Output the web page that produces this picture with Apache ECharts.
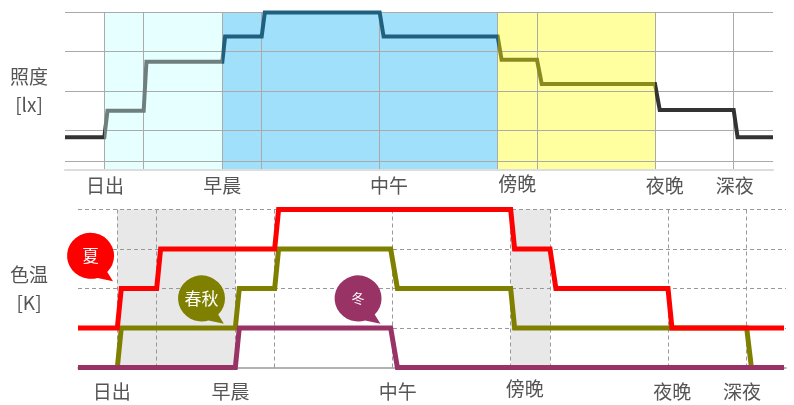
<!DOCTYPE html>
<html><head><meta charset="utf-8">
<style>html,body{margin:0;padding:0;background:#fff}#c{width:794px;height:405px}</style>
<script src="https://cdn.jsdelivr.net/npm/echarts@6/dist/echarts.min.js"></script>
</head><body><div id="c"></div>
<script>
// x unit = one timeline step, y unit = one grid level
const timeTicks = [1,2,4,5,8,11,12,15,17];
const illumLevelTicks = [0.23,1,2,3,4];
const cctLevelTicks = [1,2,3,4];

const illumLabels = ['日出','早晨','中午','傍晚','夜晚','深夜'];
const illumLabelAt = [1.02,4.0,8.24,11.5,15.25,17.03];
const cctLabels = ['日出','早晨','中午','傍晚','夜晚','深夜'];
const cctLabelAt = [0.86,3.88,8.13,11.36,15.11,16.88];

const illumance = [[0,0.83],[1,0.83],[1.08,1.50],[2,1.50],[2.07,2.74],[4,2.74],[4.07,3.38],[5,3.38],[5.08,3.99],[8,3.99],[8.1,3.38],[11,3.38],[11.1,2.79],[12,2.79],[12.12,2.18],[15,2.18],[15.12,1.52],[17,1.52],[17.1,0.83],[18,0.83]];
const summer = [[0,1],[1,1],[1.1,2],[2,2],[2.1,3],[5,3],[5.1,4],[11,4],[11.1,3],[12,3],[12.15,2],[15,2],[15.1,1],[17.95,1]];
const springAutumn = [[0,0],[1,0],[1.1,1],[4,1],[4.1,2],[5,2],[5.1,3],[7.95,3],[8.12,2],[11,2],[11.1,1],[17,1],[17.12,0]];
const winter = [[0,0],[4,0],[4.1,1],[7.95,1],[8.12,0],[17.95,0]];

const illumBands = [[1,4,'#E6FFFF'],[4,11,'#A0E0FA'],[11,15,'#FFFF9F']];
const cctBands = [[1,4],[11,12]];
const illumColors = [[0,1,'#333333'],[1,4,'#6F7F7E'],[4,11,'#1F6080'],[11,15,'#8A8A1F'],[15,18,'#333333']];

const bubbles = [
  {name:'夏', pos:[0.32,2.8], color:'#FF0000', size:17},
  {name:'春秋', pos:[3.14,1.72], color:'#808000', size:17},
  {name:'冬', pos:[7.12,1.72], color:'#993366', size:13}
];
const bubbleShape = 'path://M50 0A50 50 0 0 1 85 85L97 105L65 98A50 50 0 1 1 50 0Z';

const font = '"Noto Sans CJK TC","Noto Sans CJK SC",sans-serif';
const textCol = '#555555';

function xAxis(idx, ticks, labelAt, labels, dashed, lineCol){
  return {type:'value',gridIndex:idx,min:0,max:18,z:1,
    axisLine:{show:true,onZero:false,lineStyle:{color:lineCol,width:idx?1.5:2}},
    axisTick:{show:false,customValues:ticks},
    splitLine:{show:true,lineStyle:{color:dashed?'#999':'#aaa',type:dashed?[4,3]:'solid',width:1}},
    axisLabel:{show:true,customValues:labelAt,margin:idx?12:4,
      formatter:function(v){const i=labelAt.indexOf(v);const s=labels[i];return s==='傍晚'?'{up|'+s+'}':'{n|'+s+'}';},
      rich:{n:{fontFamily:font,fontSize:19,color:textCol,lineHeight:24},
            up:{fontFamily:font,fontSize:19,color:textCol,lineHeight:24,padding:[0,0,5,0]}}}
  };
}
function yAxis(idx, ticks, name, dashed, gap, pad){
  return {type:'value',gridIndex:idx,min:0,max:4,z:1,
    name:name,nameLocation:'middle',nameRotate:0,nameGap:gap,
    nameTextStyle:{fontFamily:font,fontSize:19,color:textCol,lineHeight:28,align:'center',verticalAlign:'middle',padding:[0,0,pad,0]},
    axisLine:{show:false},axisLabel:{show:false},
    axisTick:{show:false,customValues:ticks},
    splitLine:{show:true,lineStyle:{color:dashed?'#999':'#aaa',type:dashed?[4,3]:'solid',width:1}}
  };
}
function bandSeries(x,y,bands,color){
  return {type:'line',xAxisIndex:x,yAxisIndex:y,data:[],z:0,silent:true,
    markArea:{silent:true,z:0,data:bands.map(b=>[{xAxis:b[0],yAxis:0,itemStyle:{color:b[2]||color,opacity:1}},{xAxis:b[1],yAxis:4}])}};
}
function stepLine(x,y,data,color,w,z,name){
  const style = {width:w,cap:'butt',join:'miter'};
  if(color) style.color = color;
  return {type:'line',name:name,xAxisIndex:x,yAxisIndex:y,data:data,z:z,clip:false,showSymbol:false,symbol:'none',
    lineStyle:style,itemStyle:color?{color:color}:undefined};
}

const chart = echarts.init(document.getElementById('c'),null,{renderer:'canvas'});
chart.setOption({
  animation:false,
  backgroundColor:'#fff',
  grid:[{left:65,top:12,width:708,height:158},{left:78,top:209.5,width:708,height:158}],
  xAxis:[xAxis(0,timeTicks,illumLabelAt,illumLabels,false,'#ddd'),xAxis(1,timeTicks,cctLabelAt,cctLabels,true,'#999')],
  yAxis:[yAxis(0,illumLevelTicks,'照度\n[lx]',false,36,18),yAxis(1,cctLevelTicks,'色温\n[K]',true,49,0)],
  visualMap:{show:false,type:'piecewise',seriesIndex:1,dimension:0,
    pieces:illumColors.map(c=>({gte:c[0],lt:c[1],color:c[2]})),outOfRange:{color:'#333333'}},
  series:[
    bandSeries(0,0,illumBands),
    stepLine(0,0,illumance,null,4,3,'照度'),
    bandSeries(1,1,cctBands,'#E8E8E8'),
    stepLine(1,1,springAutumn,'#808000',5,3,'春秋'),
    stepLine(1,1,summer,'#FF0000',5,4,'夏'),
    stepLine(1,1,winter,'#993366',5,5,'冬'),
    {type:'scatter',xAxisIndex:1,yAxisIndex:1,clip:false,z:6,symbol:bubbleShape,symbolSize:[47,48.5],symbolKeepAspect:false,
      data:bubbles.map(b=>({value:b.pos,name:b.name,itemStyle:{color:b.color,opacity:1},
        label:{show:true,position:'inside',formatter:b.name,fontFamily:font,fontSize:b.size,color:'#fff',offset:[0,-1]}}))}
  ]
});
</script></body></html>
